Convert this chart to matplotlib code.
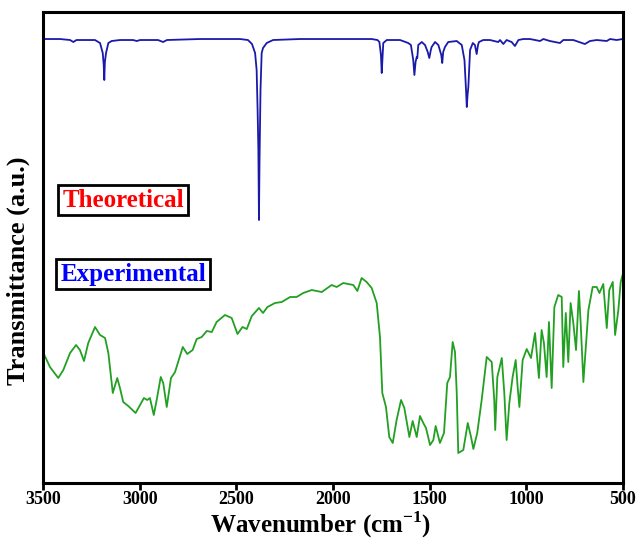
import numpy as np
import matplotlib
matplotlib.use('Agg')
import matplotlib.pyplot as plt

plt.rcParams['font.family'] = ['Liberation Serif', 'DejaVu Serif']
plt.rcParams['font.weight'] = 'bold'
plt.rcParams['mathtext.fontset'] = 'custom'
plt.rcParams['mathtext.rm'] = 'Liberation Serif:bold'
plt.rcParams['mathtext.bf'] = 'Liberation Serif:bold'

# Theoretical spectrum (wavenumber, transmittance a.u.)
theo_wn = [3500, 3412, 3360, 3343, 3327, 3231, 3205, 3191, 3186, 3183, 3180, 3174, 3162, 3145,
           3102, 3034, 3015, 2998, 2905, 2879, 2859, 2688, 2481, 2440, 2419, 2403, 2395, 2390,
           2386, 2383, 2380, 2375, 2369, 2362, 2343, 2310, 2171, 1800, 1770, 1760, 1752, 1748,
           1744, 1740, 1722, 1653, 1611, 1597, 1585, 1579, 1573, 1567, 1564, 1559, 1541, 1524,
           1510, 1502, 1494, 1490, 1472, 1455, 1440, 1435, 1430, 1421, 1404, 1360, 1334, 1320,
           1312, 1308, 1304, 1300, 1291, 1277, 1266, 1257, 1250, 1245, 1223, 1188, 1145, 1136,
           1119, 1102, 1076, 1059, 1041, 1016, 981, 929, 912, 878, 826, 809, 757, 697, 671, 636,
           584, 567, 533, 502]
theo_t = [444, 444, 443, 441, 443, 443, 440, 430, 418, 403, 421, 430, 440, 442,
          443, 443, 442, 443, 443, 441, 443, 444, 444, 443, 439, 430, 413, 373,
          333, 263, 323, 393, 430, 435, 440, 443, 444, 444, 443, 441, 428, 410,
          425, 440, 443, 443, 440, 438, 423, 408, 421, 426, 425, 438, 441, 438,
          431, 425, 433, 436, 441, 438, 428, 420, 431, 436, 441, 442, 438, 423,
          393, 376, 388, 396, 433, 440, 438, 429, 438, 441, 443, 443, 441, 443,
          439, 443, 441, 437, 443, 444, 444, 442, 444, 442, 440, 443, 443, 439, 442, 443,
          442, 444, 443, 444]

# Experimental spectrum (wavenumber, transmittance a.u.)
exp_wn = [3498, 3464, 3421, 3395, 3360, 3329, 3309, 3288, 3266, 3231, 3205, 3179, 3162, 3139,
          3116, 3102, 3085, 3059, 3021, 2998, 2978, 2961, 2947, 2927, 2912, 2891, 2878, 2860,
          2838, 2817, 2777, 2754, 2726, 2705, 2679, 2653, 2627, 2602, 2559, 2524, 2494, 2468,
          2446, 2420, 2383, 2362, 2339, 2300, 2265, 2222, 2188, 2154, 2110, 2058, 2007, 1981,
          1947, 1921, 1895, 1874, 1852, 1826, 1800, 1774, 1757, 1745, 1726, 1709, 1691, 1671,
          1648, 1631, 1605, 1588, 1567, 1550, 1533, 1519, 1498, 1481, 1469, 1447, 1426, 1409,
          1395, 1381, 1369, 1360, 1352, 1326, 1303, 1286, 1274, 1254, 1231, 1205, 1179, 1166,
          1161, 1150, 1127, 1114, 1102, 1088, 1071, 1055, 1045, 1036, 1019, 998, 976, 955,
          935, 921, 909, 895, 883, 869, 855, 835, 817, 809, 796, 783, 771, 757, 743, 728,
          719, 705, 679, 657, 636, 622, 602, 584, 571, 553, 541, 524, 512, 502]
exp_t = [130, 116, 105, 113, 130, 138, 133, 122, 140, 156, 148, 145, 130, 90,
         105, 95, 81, 77, 70, 78, 85, 83, 85, 68, 83, 106, 100, 76,
         105, 111, 136, 129, 133, 144, 146, 152, 151, 161, 168, 165, 149, 156,
         154, 167, 175, 170, 176, 180, 181, 186, 186, 190, 193, 191, 198, 196,
         200, 199, 198, 192, 205, 201, 195, 180, 146, 90, 76, 46, 40, 63,
         83, 75, 46, 62, 46, 67, 60, 55, 38, 43, 57, 40, 50, 100,
         106, 141, 131, 90, 30, 33, 60, 46, 34, 50, 83, 126, 121, 83,
         53, 106, 125, 90, 43, 80, 106, 123, 96, 76, 123, 134, 125, 150,
         105, 153, 140, 106, 161, 95, 176, 188, 186, 116, 170, 121, 180, 160, 133, 192,
         160, 101, 173, 196, 196, 190, 199, 155, 193, 201, 148, 173, 201, 208]

fig = plt.figure(figsize=(6.38, 5.39), dpi=100)
ax = fig.add_axes([0.0674, 0.1039, 0.9091, 0.8738])

ax.plot(theo_wn, theo_t, color='#1a1aaa', lw=1.3)
ax.plot(exp_wn, exp_t, color='#22a022', lw=1.3)

ax.set_xlim(3500, 500)
ax.set_ylim(0, 471)
ax.set_xticks([3500, 3000, 2500, 2000, 1500, 1000, 500])
ax.set_yticks([])
ax.tick_params(axis='x', direction='out', length=5, width=2, labelsize=13, pad=1)
for lab in ax.get_xticklabels():
    lab.set_fontweight('bold')
for s in ax.spines.values():
    s.set_linewidth(2.2)

ax.set_xlabel('Wavenumber (cm$^{-1}$)', fontsize=18, fontweight='bold')
ax.xaxis.set_label_coords(0.478, -0.056)
ax.set_ylabel('Transmittance (a.u.)', fontsize=19, fontweight='bold')
ax.yaxis.set_label_coords(-0.022, 0.45)

ax.text(3086, 283, 'Theoretical', color='red', fontsize=18, fontweight='bold',
        ha='center', va='center',
        bbox=dict(boxstyle='square,pad=0.15', fc='white', ec='black', lw=2))
ax.text(3034, 209, 'Experimental', color='blue', fontsize=18, fontweight='bold',
        ha='center', va='center',
        bbox=dict(boxstyle='square,pad=0.15', fc='white', ec='black', lw=2))

fig.savefig('out.png', dpi=100)
